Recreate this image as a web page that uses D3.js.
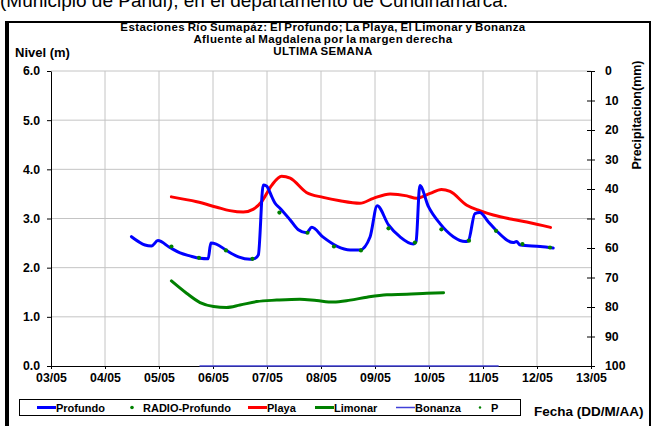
<!DOCTYPE html>
<html>
<head>
<meta charset="utf-8">
<script src="https://cdn.jsdelivr.net/npm/d3@7"></script>
<style>
  body { margin: 0; background: #fff; }
  text { font-family: Arial, "Liberation Sans", sans-serif; }
</style>
</head>
<body>
<div id="wrapper"></div>
<script>
// days of May (decimal) and levels in metres
const profundoDia = [4.49, 4.62, 4.74, 4.86, 4.98, 5.20, 5.39, 5.57, 5.76, 5.91, 5.96, 6.06, 6.25, 6.47, 6.69, 6.78, 6.84, 6.93, 6.99, 7.09, 7.15, 7.24, 7.43, 7.58, 7.73, 7.83, 8.04, 8.29, 8.54, 8.72, 8.91, 9.04, 9.25, 9.46, 9.71, 9.76, 9.83, 9.99, 10.20, 10.45, 10.67, 10.73, 10.85, 10.94, 11.10, 11.25, 11.56, 11.62, 11.69, 12.06, 12.30]
const profundoNivel = [2.63, 2.53, 2.46, 2.44, 2.55, 2.41, 2.30, 2.24, 2.19, 2.18, 2.50, 2.48, 2.35, 2.22, 2.17, 2.19, 2.26, 3.68, 3.66, 3.44, 3.31, 3.21, 2.97, 2.77, 2.71, 2.82, 2.62, 2.44, 2.36, 2.36, 2.63, 3.26, 2.87, 2.63, 2.48, 2.53, 3.67, 3.24, 2.90, 2.63, 2.53, 2.55, 3.10, 3.12, 2.93, 2.75, 2.51, 2.53, 2.46, 2.43, 2.40]

const radioDia = [5.23, 5.74, 6.24, 6.73, 7.23, 7.75, 8.24, 8.74, 9.25, 9.74, 10.23, 10.74, 11.24, 11.73, 12.24]
const radioNivel = [2.43, 2.20, 2.35, 2.18, 3.12, 2.71, 2.43, 2.35, 2.80, 2.51, 2.78, 2.55, 2.75, 2.48, 2.41]

const playaDia = [5.23, 5.70, 6.07, 6.31, 6.56, 6.75, 6.90, 7.09, 7.27, 7.43, 7.73, 8.04, 8.35, 8.72, 8.97, 9.28, 9.59, 9.77, 10.02, 10.23, 10.39, 10.70, 10.94, 11.19, 11.56, 11.81, 12.25]
const playaNivel = [3.44, 3.34, 3.23, 3.16, 3.13, 3.19, 3.34, 3.68, 3.86, 3.82, 3.53, 3.43, 3.36, 3.31, 3.41, 3.50, 3.46, 3.41, 3.51, 3.59, 3.55, 3.27, 3.16, 3.07, 2.98, 2.93, 2.82]

const limonarDia = [5.23, 5.51, 5.76, 6.01, 6.25, 6.50, 6.81, 7.18, 7.61, 7.92, 8.23, 8.54, 8.85, 9.22, 9.59, 9.96, 10.27]
const limonarNivel = [1.73, 1.48, 1.29, 1.21, 1.19, 1.24, 1.31, 1.34, 1.36, 1.33, 1.30, 1.34, 1.40, 1.45, 1.46, 1.48, 1.49]

const bonanzaDia = [5.76, 11.28]
const bonanzaNivel = [0, 0]

const diasTicks = [3, 4, 5, 6, 7, 8, 9, 10, 11, 12, 13]
const nivelTicks = [0, 1, 2, 3, 4, 5, 6]
const precipTicks = [0, 10, 20, 30, 40, 50, 60, 70, 80, 90, 100]

const titulos = [
    "Estaciones Río Sumapáz: El Profundo; La Playa, El Limonar y Bonanza",
    "Afluente al Magdalena por la margen derecha",
    "ULTIMA SEMANA"
]

const W = 653, H = 426
const plot = { left: 51, right: 591, top: 71, bottom: 366 }

const svg = d3.select("#wrapper").append("svg")
    .attr("width", W)
    .attr("height", H)
    .style("display", "block")

svg.append("rect").attr("width", W).attr("height", H).attr("fill", "#fff")

// caption of the page above the chart, cut by the top edge
svg.append("text")
    .attr("x", 0).attr("y", 7)
    .style("font-size", "19px")
    .text("(Municipio de Pandi), en el departamento de Cundinamarca.")

// chart frame
svg.append("rect")
    .attr("x", 6).attr("y", 22)
    .attr("width", 644).attr("height", 420)
    .attr("fill", "none").attr("stroke", "#000").attr("stroke-width", 2)
svg.append("line")
    .attr("x1", 7).attr("x2", 7).attr("y1", 22).attr("y2", H)
    .attr("stroke", "#000").attr("stroke-width", 4)

const x = d3.scaleLinear().domain([3, 13]).range([plot.left, plot.right])
const y = d3.scaleLinear().domain([0, 6]).range([plot.bottom, plot.top])
const yP = d3.scaleLinear().domain([0, 100]).range([plot.top, plot.bottom])

// grid
const grid = svg.append("g").attr("stroke", "#c4c4c4").attr("stroke-width", 1)
grid.selectAll(".gx").data(diasTicks.slice(1, -1)).enter().append("line")
    .attr("x1", d => x(d)).attr("x2", d => x(d))
    .attr("y1", plot.top).attr("y2", plot.bottom)
grid.selectAll(".gy").data(nivelTicks.slice(1)).enter().append("line")
    .attr("x1", plot.left).attr("x2", plot.right)
    .attr("y1", d => y(d)).attr("y2", d => y(d))

const fmtDia = d => String(d).padStart(2, "0") + "/05"

const axX = svg.append("g")
    .attr("transform", `translate(0,${plot.bottom})`)
    .call(d3.axisBottom(x).tickValues(diasTicks).tickFormat(fmtDia).tickSize(3).tickSizeOuter(0).tickPadding(4))
const axY = svg.append("g")
    .attr("transform", `translate(${plot.left},0)`)
    .call(d3.axisLeft(y).tickValues(nivelTicks).tickFormat(d3.format(".1f")).tickSize(4).tickSizeOuter(0).tickPadding(7))
const axP = svg.append("g")
    .attr("transform", `translate(${plot.right},0)`)
    .call(d3.axisRight(yP).tickValues(precipTicks).tickSize(4).tickSizeOuter(0).tickPadding(10))
axP.selectAll(".tick line").attr("x1", -4)

;[axX, axY, axP].forEach(a => {
    a.selectAll("text").style("font-size", "12.3px").style("font-weight", "bold").attr("fill", "#000")
    a.selectAll("line,path").attr("stroke", "#000")
})
axX.selectAll("text").attr("dy", "0.75em")

// lines
function serie(dias, niveles) {
    return dias.map((d, i) => ({ dia: d, nivel: niveles[i] }))
}
const linea = d3.line().x(d => x(d.dia)).y(d => y(d.nivel)).curve(d3.curveMonotoneX)

const series = [
    { datos: serie(bonanzaDia, bonanzaNivel), color: "#4040d8", ancho: 1.5 },
    { datos: serie(limonarDia, limonarNivel), color: "#008000", ancho: 3 },
    { datos: serie(playaDia, playaNivel), color: "#ff0000", ancho: 3 },
    { datos: serie(profundoDia, profundoNivel), color: "#0000ff", ancho: 3 }
]
svg.append("g").selectAll("path").data(series).enter().append("path")
    .attr("d", d => linea(d.datos))
    .attr("fill", "none")
    .attr("stroke", d => d.color)
    .attr("stroke-width", d => d.ancho)
    .attr("stroke-linejoin", "round")
    .attr("stroke-linecap", "round")

svg.append("g").selectAll("circle").data(serie(radioDia, radioNivel)).enter().append("circle")
    .attr("cx", d => x(d.dia)).attr("cy", d => y(d.nivel))
    .attr("r", 2.1).attr("fill", "#008000")

// titles
svg.append("g").selectAll("text").data(titulos).enter().append("text")
    .attr("x", 323).attr("y", (d, i) => 31 + i * 12)
    .attr("text-anchor", "middle")
    .style("font-size", "11.5px").style("font-weight", "bold")
    .style("letter-spacing", "0.4px").style("word-spacing", "-1px")
    .text(d => d)

svg.append("text").attr("x", 15).attr("y", 57)
    .style("font-size", "13px").style("font-weight", "bold")
    .text("Nivel (m)")

svg.append("text")
    .attr("transform", "translate(641,115) rotate(-90)")
    .attr("text-anchor", "middle")
    .style("font-size", "12.5px").style("font-weight", "bold")
    .text("Precipitacion(mm)")

svg.append("text").attr("x", 534).attr("y", 416)
    .style("font-size", "13.5px").style("font-weight", "bold")
    .text("Fecha (DD/M/AA)")

// legend
const leyenda = svg.append("g")
leyenda.append("rect")
    .attr("x", 19.5).attr("y", 399.5).attr("width", 501).attr("height", 16)
    .attr("fill", "#fff").attr("stroke", "#000")
const items = [
    { nombre: "Profundo", tipo: "linea", color: "#0000ff", ancho: 3, x0: 37 },
    { nombre: "RADIO-Profundo", tipo: "punto", color: "#008000", r: 1.8, x0: 123 },
    { nombre: "Playa", tipo: "linea", color: "#ff0000", ancho: 3, x0: 248 },
    { nombre: "Limonar", tipo: "linea", color: "#008000", ancho: 3, x0: 315 },
    { nombre: "Bonanza", tipo: "linea", color: "#4040d8", ancho: 1.5, x0: 396 },
    { nombre: "P", tipo: "punto", color: "#008000", r: 1.2, x0: 471 }
]
const li = leyenda.selectAll(".item").data(items).enter().append("g")
    .attr("transform", d => `translate(${d.x0},407.5)`)
li.filter(d => d.tipo === "linea").append("line")
    .attr("x1", 0).attr("x2", 19).attr("stroke", d => d.color).attr("stroke-width", d => d.ancho)
li.filter(d => d.tipo === "punto").append("circle")
    .attr("cx", 9).attr("r", d => d.r).attr("fill", d => d.color)
li.append("text")
    .attr("x", d => d.tipo === "linea" ? 19 : 20).attr("y", 4)
    .style("font-size", "11px").style("font-weight", "bold")
    .text(d => d.nombre)
</script>
</body>
</html>
